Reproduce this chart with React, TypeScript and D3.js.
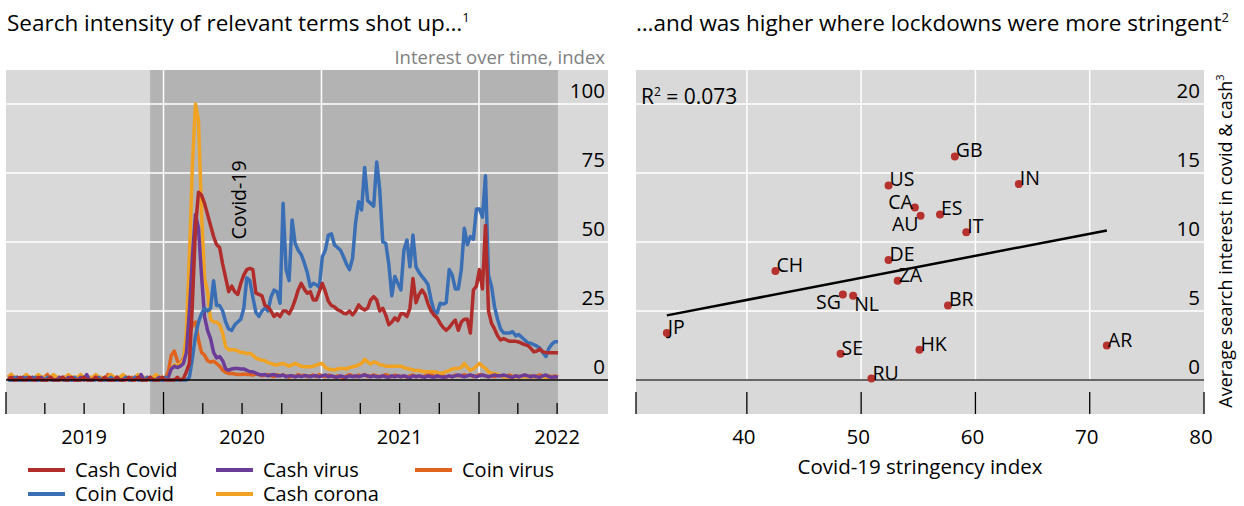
import React from 'react';
import * as d3 from 'd3';

// Weekly Google Trends series, first week 2019-01-06
const seriesNames = ['Cash Covid', 'Coin Covid', 'Cash virus', 'Cash corona', 'Coin virus'];
const seriesColors = ['#b02d2b', '#3a6fb5', '#6b3d98', '#f0a322', '#e0641e'];

const cashCovid = [
  0, 1, 0, 0, 1, 0, 0, 1, 0, 0,
  1, 0, 0, 0, 1, 0, 0, 0, 1, 0,
  0, 1, 0, 0, 0, 1, 0, 0, 0, 1,
  0, 0, 1, 0, 0, 0, 1, 0, 0, 0,
  1, 0, 0, 1, 0, 0, 0, 1, 0, 0,
  0, 1, 0, 0, 0, 0, 1, 0, 0.5, 3,
  6, 28, 55, 68, 67, 64, 60, 56, 52, 49,
  48, 42, 37, 32, 34, 32, 31, 35, 38, 40,
  40.5, 40, 31.5, 31, 30.5, 27, 26.5, 25, 23, 24,
  23, 25, 25, 24, 26, 29, 32.6, 35, 33, 31.4,
  32, 29, 29, 32, 35, 32, 28.5, 27, 26.5, 25.5,
  25, 24.2, 24, 25, 23.6, 25, 27.2, 26, 25.4, 26,
  29, 30.2, 29, 25, 26, 23.5, 20, 21, 22.5, 21.5,
  24, 24, 23, 26, 36.8, 28, 31, 32.6, 31, 27.5,
  25, 23.5, 22.5, 20.5, 19, 18, 19, 20.5, 21.7, 18,
  21, 22, 22, 17, 32.6, 34, 40, 33, 56, 25,
  20.5, 18.5, 16, 14.5, 15, 14.5, 14, 14, 14, 13.8,
  13.3, 12.8, 12.5, 11.5, 10.2, 10.5, 11.2, 10.2, 10, 9.9,
  9.9, 9.9, 9.9,
];

const coinCovid = [
  0, 0, 1, 0, 0, 0, 1, 0, 0, 1,
  0, 0, 0, 1, 0, 0, 0, 0, 1, 0,
  0, 0, 1, 0, 0, 1, 0, 0, 0, 0,
  1, 0, 0, 0, 1, 0, 0, 0, 0, 1,
  0, 0, 1, 0, 0, 0, 1, 0, 0, 0,
  0, 0, 1, 0, 0, 0, 0, 0, 0, 0,
  1, 8, 16, 21, 24, 26, 25, 26, 36, 27,
  27, 25, 21, 18.5, 18, 20, 21, 22, 26, 37,
  36, 30, 24.5, 23, 25, 26, 25, 30, 32.6, 32,
  27.8, 64, 40, 36, 58, 49.5, 47, 45.5, 42.5, 39,
  33.8, 35, 34.5, 33.5, 44.7, 47, 52.5, 53, 49, 48,
  47, 44.7, 42, 40, 44, 57, 64.6, 61.6, 77, 65,
  64, 63, 79, 69, 50, 49.5, 42, 30.5, 37.5, 35,
  32.6, 47, 50.7, 41, 52.5, 41, 39, 37.5, 36.2, 34.5,
  29, 25, 24.2, 27.8, 27.5, 28, 40, 38, 33, 33,
  40, 55, 49, 52, 51, 62, 62, 59, 74, 38,
  34, 26.6, 22, 18.5, 17, 17, 17, 17.5, 16, 16.5,
  15.5, 14.5, 13.5, 13.3, 12.8, 12.3, 11.5, 10, 8.5, 11.5,
  13, 13.9, 13.9,
];

const cashVirus = [
  1, 0, 0, 1, 0, 1, 0, 0, 1, 0,
  0, 1, 0, 0, 1, 0, 0, 1, 0, 0,
  1, 0, 0, 0, 1, 0, 2, 0, 0, 1,
  0, 0, 1, 0, 0, 0, 1, 0, 0, 1,
  0, 0, 1, 0, 2, 0, 0, 1, 0, 0,
  1, 0, 0, 1, 4, 5, 4.5, 5, 6, 10,
  25, 45, 60, 55, 38, 23, 18, 15, 10, 8,
  8.5, 7, 4, 3.5, 4, 4.2, 4.2, 4, 4, 3.5,
  3, 3, 2.5, 2, 1.8, 2, 1.5, 1.8, 2, 1.5,
  1.5, 1.8, 1.2, 1.5, 1.5, 1.2, 1.5, 1.3, 1.5, 1.5,
  1.2, 1.5, 1.5, 1.2, 1.5, 1.8, 1.2, 1.5, 1.2, 1,
  1.5, 1.2, 1, 1.5, 1.2, 1.5, 1.2, 1.5, 1.8, 1.5,
  1.2, 1.5, 1.2, 1.2, 1.5, 1.2, 1, 1.5, 1.2, 1.5,
  1.2, 1.5, 1.2, 0.8, 1.5, 1.2, 1.5, 1.2, 1, 1.5,
  1.2, 1, 1.5, 1.2, 1, 1.2, 1.5, 1.2, 1.5, 1.8,
  1.5, 1.2, 1.5, 1.8, 1.5, 1.2, 1.5, 1.8, 1.5, 1.2,
  1.5, 1.8, 1.5, 1.5, 1.8, 1.5, 1.2, 1, 1.5, 1.2,
  1.5, 1.8, 1.5, 1.2, 1.5, 1.2, 1, 1.5, 1.8, 1.2,
  1, 1.2, 1,
];

const cashCorona = [
  1, 2, 1, 1, 0, 1, 2, 1, 0, 1,
  2, 1, 1, 0, 1, 2, 1, 1, 0, 1,
  2, 1, 1, 1, 2, 1, 0, 1, 1, 2,
  1, 1, 0, 1, 2, 1, 1, 1, 2, 1,
  1, 0, 1, 2, 1, 1, 0, 1, 1, 2,
  1, 1, 0.7, 1, 4, 5.5, 5, 6, 7, 17,
  45, 78, 100, 94, 61, 37, 32, 22, 21, 21,
  20, 17, 12, 11, 11, 11, 10.5, 10, 10, 9.5,
  9.7, 9, 8, 7.5, 7.2, 7, 6.3, 6, 5.6, 5.4,
  5.8, 6, 5.5, 5, 5.5, 6, 5.5, 5, 4.8, 4.8,
  4.8, 5, 5.4, 5.8, 6, 4.5, 4, 3.8, 3.6, 4,
  4.2, 4.2, 4, 4.5, 4.8, 5, 5.5, 6, 7.5, 6.5,
  5.8, 6.5, 6.3, 5.5, 5.4, 5, 5, 5, 5, 5,
  5, 4.5, 4.2, 4, 3.6, 3.4, 3.4, 3.2, 3, 3,
  3, 3, 2.8, 2.4, 2.6, 3, 3.4, 4, 4.2, 4.2,
  4.5, 6, 4.5, 3.5, 4, 5, 6, 5, 4.2, 3,
  2.4, 2.4, 2, 1.6, 1.2, 1, 0.8, 0.8, 1.2, 1.2,
  1.2, 1.2, 1.2, 1.2, 1.2, 1.2, 1.2, 1.2, 1, 1,
  1, 1, 1,
];

const coinVirus = [
  1, 2, 0, 1, 0, 1, 1, 0, 1, 0,
  1, 0, 1, 2, 0, 0, 1, 0, 1, 1,
  0, 1, 0, 0, 1, 0, 1, 0, 0, 1,
  1, 0, 0, 2, 1, 0, 0, 1, 0, 1,
  0, 1, 0, 1, 0, 0, 1, 0, 1, 0,
  0, 1, 0.5, 3, 9, 10.5, 7, 5.5, 8, 11,
  17, 20, 21, 14.5, 10, 9, 7, 6.5, 6.8, 6,
  5, 3.6, 2.8, 2.4, 2.4, 2.2, 2, 2, 2.2, 2,
  2, 1.8, 2.2, 2, 1.5, 1.8, 2, 1.5, 1.2, 2,
  1.5, 1.8, 1.5, 1, 1.5, 1.2, 2, 1.5, 1.8, 1.2,
  1.5, 1.8, 1.2, 2, 1.5, 1.2, 1.8, 1.5, 1, 1.5,
  1.2, 0.5, 1.5, 2, 1.5, 1.2, 1.8, 1.5, 2, 1.2,
  1.5, 1.8, 1.5, 1.2, 1.5, 2, 1.5, 1.2, 1.8, 1.5,
  1.2, 1.5, 1, 1.5, 1.8, 1.2, 1.5, 1.2, 1.5, 1.8,
  2, 1.5, 1.2, 1.8, 1.5, 1, 1.5, 1.2, 1.8, 1.5,
  1.5, 2, 1.5, 1.8, 1.2, 1.5, 2, 1.8, 1.5, 1.2,
  1.5, 1.2, 1.8, 1.5, 1.2, 1.5, 1.8, 1.2, 1.5, 1.2,
  1.5, 1.8, 1.2, 1.5, 1.2, 1.5, 1.8, 1.5, 1.2, 1.5,
  1.2, 1.5, 1.2,
];

const seriesValues = [cashCovid, coinCovid, cashVirus, cashCorona, coinVirus];
const yearLabels = [2019, 2020, 2021, 2022];
const leftYTicks = [0, 25, 50, 75, 100];

// Scatter: stringency vs average search interest
const countries = ['JP', 'CH', 'SG', 'NL', 'SE', 'RU', 'DE', 'ZA', 'US', 'CA', 'AU', 'HK', 'GB', 'IN', 'ES', 'IT', 'BR', 'AR'];
const stringency = [33.0, 42.5, 48.4, 49.3, 48.2, 50.9, 52.4, 53.2, 52.4, 54.7, 55.2, 55.1, 58.2, 63.8, 56.9, 59.2, 57.6, 71.5];
const searchInterest = [3.4, 7.9, 6.2, 6.1, 1.9, 0.1, 8.7, 7.2, 14.1, 12.5, 11.9, 2.2, 16.2, 14.2, 12.0, 10.7, 5.4, 2.5];
const labelSide = ['ne', 'ne', 'sw', 'se', 'ne', 'ne', 'ne', 'ne', 'ne', 'nw', 'sw', 'ne', 'ne', 'ne', 'ne', 'ne', 'ne', 'ne'];
const rightXTicks = [40, 50, 60, 70, 80];
const rightYTicks = [0, 5, 10, 15, 20];

const FONT = "'Open Sans', 'DejaVu Sans', sans-serif";
const LIGHT = '#d9d9d9';
const DARK = '#b3b3b3';

export default function App() {
  const top = 70;
  const bottom = 414;

  // Left panel scales
  const x = d3.scaleTime().domain([new Date(2019, 0, 1), new Date(2022, 0, 1)]).range([6, 479]);
  const y = d3.scaleLinear().domain([0, 100]).range([380, 104]);
  const leftX0 = 6;
  const leftX1 = 608;
  const dates = cashCovid.map((_, i) => d3.timeWeek.offset(new Date(2019, 0, 6), i));
  const shadeStart = x(new Date(2019, 11, 1));
  const shadeEnd = x(dates[dates.length - 1]);
  const yearTicks = d3.timeYear.range(new Date(2019, 0, 1), new Date(2022, 0, 2));
  const quarterTicks = d3.timeMonth.every(3)!.range(new Date(2019, 0, 1), new Date(2022, 6, 2));

  const line = d3
    .line<number>()
    .x((_, i) => x(dates[i]))
    .y((d) => y(d))
    .curve(d3.curveLinear);

  // Right panel scales
  const sx = d3.scaleLinear().domain([30.3, 80]).range([636, 1204]);
  const sy = d3.scaleLinear().domain([0, 20]).range([380, 104]);

  // least squares fit
  const mx = d3.mean(stringency)!;
  const my = d3.mean(searchInterest)!;
  const sxy = d3.sum(stringency, (v, i) => (v - mx) * (searchInterest[i] - my));
  const sxx = d3.sum(stringency, (v) => (v - mx) ** 2);
  const slope = sxy / sxx;
  const icpt = my - slope * mx;
  const [fx0, fx1] = d3.extent(stringency) as [number, number];

  const legendCols = [28, 216, 415];
  const legendRows = [470, 494];
  const legendPos = [
    [0, 0],
    [0, 1],
    [1, 0],
    [1, 1],
    [2, 0],
  ];

  return (
    <svg
      width={1244}
      height={506}
      style={{position: 'absolute', left: 0, top: 0}}
      fontFamily={FONT}
    >
      <rect width={1244} height={506} fill="#fff" />

      {/* ---------- Left panel ---------- */}
      <text x={7} y={31} fontSize={22.5}>
        Search intensity of relevant terms shot up…
        <tspan dy={-9} fontSize={13}>1</tspan>
      </text>
      <text x={605} y={64} fontSize={18.5} fill="#808080" textAnchor="end">
        Interest over time, index
      </text>

      <rect x={leftX0} y={top} width={leftX1 - leftX0} height={bottom - top} fill={LIGHT} />
      <rect x={shadeStart} y={top} width={shadeEnd - shadeStart} height={bottom - top} fill={DARK} />

      {leftYTicks.filter((t) => t > 0).map((t) => (
        <line key={t} x1={leftX0} x2={leftX1} y1={y(t)} y2={y(t)} stroke="#fff" strokeWidth={1.5} />
      ))}
      {yearTicks.slice(1).map((d) => (
        <line key={+d} x1={x(d)} x2={x(d)} y1={top} y2={y(0)} stroke="#fff" strokeWidth={1.5} />
      ))}

      {seriesValues
        .map((vals, k) => ({vals, k}))
        .reverse()
        .map(({vals, k}) => (
          <path
            key={k}
            d={line(vals) ?? ''}
            fill="none"
            stroke={seriesColors[k]}
            strokeWidth={3.5}
            strokeLinejoin="round"
          />
        ))}

      <line x1={leftX0} x2={leftX1} y1={y(0)} y2={y(0)} stroke="#000" strokeWidth={1.5} />

      {quarterTicks.map((d) => {
        const major = d.getMonth() === 0;
        return (
          <line
            key={+d}
            x1={x(d)}
            x2={x(d)}
            y1={major ? 392 : 403}
            y2={bottom}
            stroke="#000"
            strokeWidth={1.3}
          />
        );
      })}

      {yearLabels.map((yr) => (
        <text key={yr} x={x(new Date(yr, 6, 1))} y={444} fontSize={20} textAnchor="middle">
          {yr}
        </text>
      ))}

      {leftYTicks.map((t) => (
        <text key={t} x={605} y={y(t) - 6} fontSize={20.5} textAnchor="end">
          {t}
        </text>
      ))}

      <text transform="translate(246,200) rotate(-90)" fontSize={19.5} textAnchor="middle">
        Covid-19
      </text>

      {seriesNames.map((name, k) => {
        const [c, r] = legendPos[k];
        const lx = legendCols[c];
        const ly = legendRows[r];
        return (
          <g key={name}>
            <line x1={lx} x2={lx + 37} y1={ly} y2={ly} stroke={seriesColors[k]} strokeWidth={4} />
            <text x={lx + 47} y={ly + 7} fontSize={20}>
              {name}
            </text>
          </g>
        );
      })}

      {/* ---------- Right panel ---------- */}
      <text x={636} y={31} fontSize={22.5}>
        …and was higher where lockdowns were more stringent
        <tspan dy={-9} fontSize={13}>2</tspan>
      </text>

      <rect x={636} y={top} width={sx(80) - 636} height={bottom - top} fill={LIGHT} />
      {rightYTicks.filter((t) => t > 0).map((t) => (
        <line key={t} x1={636} x2={sx(80)} y1={sy(t)} y2={sy(t)} stroke="#fff" strokeWidth={1.5} />
      ))}
      {rightXTicks.filter((t) => t < 80).map((t) => (
        <line key={t} x1={sx(t)} x2={sx(t)} y1={top} y2={sy(0)} stroke="#fff" strokeWidth={1.5} />
      ))}
      <line x1={636} x2={sx(80)} y1={sy(0)} y2={sy(0)} stroke="#404040" strokeWidth={1.5} />

      {[636, ...rightXTicks.map((t) => sx(t))].map((px, i) => (
        <line key={i} x1={px} x2={px} y1={392} y2={bottom} stroke="#000" strokeWidth={1.3} />
      ))}

      {rightXTicks.map((t) => (
        <text key={t} x={sx(t) - 3} y={444} fontSize={20.5} textAnchor="middle">
          {t}
        </text>
      ))}
      {rightYTicks.map((t) => (
        <text key={t} x={1200} y={sy(t) - 6} fontSize={20.5} textAnchor="end">
          {t}
        </text>
      ))}

      <text x={920} y={474} fontSize={20.5} textAnchor="middle">
        Covid-19 stringency index
      </text>
      <text transform="translate(1232,241) rotate(-90)" fontSize={18} textAnchor="middle">
        Average search interest in covid &amp; cash
        <tspan dy={-8} fontSize={11}>3</tspan>
      </text>

      <text x={641} y={104} fontSize={21}>
        R<tspan dy={-8} fontSize={12}>2</tspan>
        <tspan dy={8}> = 0.073</tspan>
      </text>

      <line
        x1={sx(fx0)}
        x2={sx(fx1)}
        y1={sy(icpt + slope * fx0)}
        y2={sy(icpt + slope * fx1)}
        stroke="#000"
        strokeWidth={2.5}
      />

      {countries.map((c, i) => {
        const cx = sx(stringency[i]);
        const cy = sy(searchInterest[i]);
        const side = labelSide[i];
        const east = side.endsWith('e');
        const south = side.startsWith('s');
        return (
          <g key={c}>
            <circle cx={cx} cy={cy} r={4} fill="#b5322e" />
            <text
              x={east ? cx + 1 : cx - 2}
              y={south ? cy + 15 : cy + 1}
              fontSize={19.5}
              textAnchor={east ? 'start' : 'end'}
            >
              {c}
            </text>
          </g>
        );
      })}
    </svg>
  );
}
